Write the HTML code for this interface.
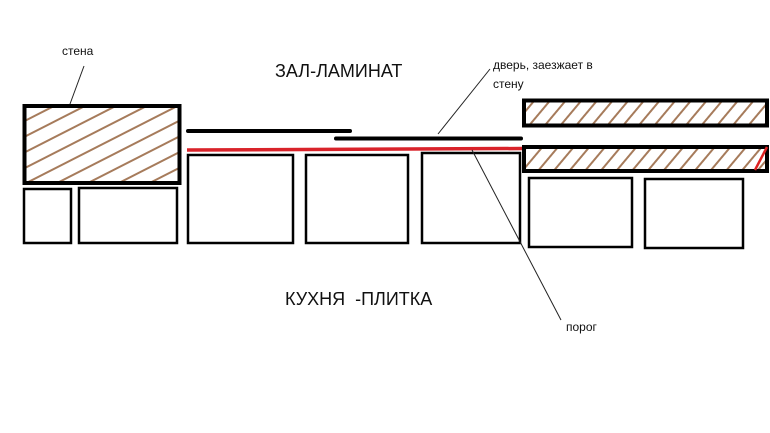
<!DOCTYPE html>
<html><head><meta charset="utf-8"><style>
html,body{margin:0;padding:0;background:#fff;}
svg{display:block;}
text{font-family:"Liberation Sans","DejaVu Sans",sans-serif;fill:#111;}
</style></head><body>
<svg width="770" height="433" viewBox="0 0 770 433" xmlns="http://www.w3.org/2000/svg">
<defs>
<pattern id="h1" patternUnits="userSpaceOnUse" width="14" height="14" patternTransform="rotate(-27)">
<line x1="0" y1="7" x2="14" y2="7" stroke="#a67b5b" stroke-width="2"/>
</pattern>
<pattern id="h2" patternUnits="userSpaceOnUse" width="12" height="12" patternTransform="rotate(-50)">
<line x1="0" y1="6" x2="12" y2="6" stroke="#a67b5b" stroke-width="2"/>
</pattern>
</defs>
<rect width="770" height="433" fill="#fff"/>
<rect x="24.5" y="106" width="155" height="77" fill="url(#h1)" stroke="#000" stroke-width="4"/>
<rect x="524" y="100.5" width="243" height="25" fill="url(#h2)" stroke="#000" stroke-width="4"/>
<rect x="524" y="147" width="243" height="24" fill="url(#h2)" stroke="#000" stroke-width="4"/>
<line x1="755" y1="170" x2="767" y2="147" stroke="#d22" stroke-width="2.5"/>
<g fill="none" stroke="#000" stroke-width="2.5">
<rect x="24" y="189" width="47" height="54"/>
<rect x="79" y="188" width="98" height="55"/>
<rect x="188" y="155" width="105" height="88"/>
<rect x="306" y="155" width="102" height="88"/>
<rect x="422" y="153" width="98" height="90"/>
<rect x="529" y="178" width="103" height="69"/>
<rect x="645" y="179" width="98" height="69"/>
</g>
<line x1="188" y1="131" x2="350" y2="131" stroke="#000" stroke-width="4" stroke-linecap="round"/>
<line x1="336" y1="138.5" x2="521" y2="138.5" stroke="#000" stroke-width="4" stroke-linecap="round"/>
<line x1="187" y1="150" x2="522" y2="148.5" stroke="#d9232a" stroke-width="3.5"/>
<g stroke="#222" stroke-width="1">
<line x1="84" y1="66" x2="70" y2="104"/>
<line x1="490" y1="69" x2="438" y2="134"/>
<line x1="472" y1="150" x2="561" y2="320"/>
</g>
<text x="62" y="55" font-size="12">стена</text>
<text x="275" y="77" font-size="18">ЗАЛ-ЛАМИНАТ</text>
<text x="493" y="69" font-size="12">дверь, заезжает в</text>
<text x="493" y="88" font-size="12">стену</text>
<text x="285" y="305" font-size="18" xml:space="preserve">КУХНЯ  -ПЛИТКА</text>
<text x="566" y="331" font-size="12">порог</text>
</svg>
</body></html>
